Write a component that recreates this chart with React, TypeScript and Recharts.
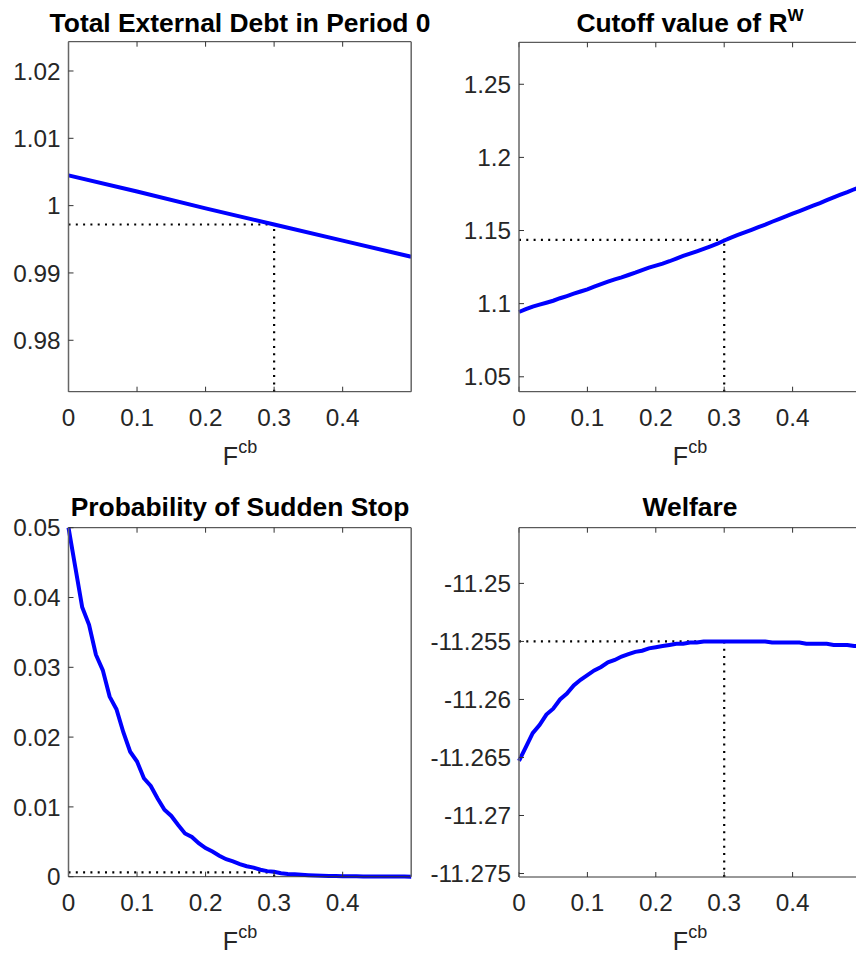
import { LineChart, Line, XAxis, YAxis, ReferenceLine } from "recharts"

// grid of F^cb values
const fcbGrid = [
  0, 0.01, 0.02, 0.03, 0.04, 0.05, 0.06, 0.07, 0.08, 0.09,
  0.1, 0.11, 0.12, 0.13, 0.14, 0.15, 0.16, 0.17, 0.18, 0.19,
  0.2, 0.21, 0.22, 0.23, 0.24, 0.25, 0.26, 0.27, 0.28, 0.29,
  0.3, 0.31, 0.32, 0.33, 0.34, 0.35, 0.36, 0.37, 0.38, 0.39,
  0.4, 0.41, 0.42, 0.43, 0.44, 0.45, 0.46, 0.47, 0.48, 0.49, 0.5,
]

const debtGrid = [0, 0.1, 0.2, 0.3, 0.4, 0.5]
const debtVals = [1.0045, 1.0021, 0.9996, 0.9972, 0.9948, 0.9924]

const cutoffVals = [
  1.0943, 1.0962, 1.098, 1.0993, 1.1006, 1.102, 1.1037, 1.1052, 1.1068, 1.1083,
  1.1098, 1.1116, 1.1133, 1.115, 1.1166, 1.118, 1.1196, 1.1212, 1.123, 1.1246,
  1.126, 1.1274, 1.129, 1.1308, 1.1326, 1.1342, 1.1358, 1.1375, 1.1392, 1.141,
  1.1432, 1.1452, 1.147, 1.1487, 1.1505, 1.1523, 1.154, 1.156, 1.1578, 1.1596,
  1.1615, 1.1633, 1.1652, 1.167, 1.1688, 1.1708, 1.1727, 1.1745, 1.1762, 1.1782, 1.1799,
]

const probVals = [
  0.05, 0.0443, 0.0386, 0.0361, 0.0318, 0.0296, 0.0258, 0.024, 0.0207, 0.0179,
  0.0165, 0.0141, 0.013, 0.0112, 0.0096, 0.0087, 0.0074, 0.0062, 0.0057, 0.0048,
  0.0041, 0.0036, 0.003, 0.0025, 0.0022, 0.0018, 0.0015, 0.0013, 0.001, 0.0008,
  0.0007, 0.0005, 0.0004, 0.00035, 0.00028, 0.00022, 0.00017, 0.00014, 0.00011, 0.00009,
  0.00007, 0.00006, 0.00005, 0.00004, 0.00004, 0.00003, 0.00003, 0.00002, 0.00002, 0.00002, 0.00001,
]

const welfareVals = [
  -11.2653, -11.2641, -11.2629, -11.2622, -11.2613, -11.2608, -11.26, -11.2595, -11.2588, -11.2583,
  -11.2579, -11.2575, -11.2572, -11.2568, -11.2566, -11.2563, -11.2561, -11.2559, -11.2558, -11.2556,
  -11.2555, -11.2554, -11.2553, -11.2552, -11.2552, -11.2551, -11.2551, -11.255, -11.255, -11.255,
  -11.255, -11.255, -11.255, -11.255, -11.255, -11.255, -11.255, -11.2551, -11.2551, -11.2551,
  -11.2551, -11.2551, -11.2552, -11.2552, -11.2552, -11.2552, -11.2553, -11.2553, -11.2553, -11.2554, -11.2554,
]

const fcbStar = 0.3
const debtStar = 0.9972
const cutoffStar = 1.1436
const probStar = 0.00063
const welfareStar = -11.255

const xTicks = [0, 0.1, 0.2, 0.3, 0.4]
const debtTicks = [0.98, 0.99, 1, 1.01, 1.02]
const cutoffTicks = [1.05, 1.1, 1.15, 1.2, 1.25]
const probTicks = [0, 0.01, 0.02, 0.03, 0.04, 0.05]
const welfareTicks = [-11.275, -11.27, -11.265, -11.26, -11.255, -11.25]

const FONT = '"Liberation Sans", Arial, Helvetica, sans-serif'
const TICK = { fontSize: 24.3, fill: "#262626", fontFamily: FONT }
const blank = () => ""

// axis sizes reserved by recharts; the margins below are reduced by them
const YW = 60
const XH = 60

interface PanelProps {
  left: number
  top: number
  width: number
  height: number
  // wanted plot-area edges relative to the chart box
  plot: { top: number; right: number; bottom: number; left: number }
  xs: number[]
  ys: number[]
  yDomain: [number, number]
  yTicks: number[]
  star: number
}

function Panel({ left, top, width, height, plot, xs, ys, yDomain, yTicks, star }: PanelProps) {
  const data = xs.map((f, i) => ({ f, v: ys[i] }))
  const margin = {
    top: plot.top - 1,
    right: plot.right - 1,
    bottom: plot.bottom - XH,
    left: plot.left - YW,
  }
  return (
    <div style={{ position: "absolute", left, top }}>
      <LineChart width={width} height={height} data={data} margin={margin}>
        <XAxis
          type="number"
          dataKey="f"
          domain={[0, 0.5]}
          ticks={xTicks}
          tick={TICK}
          tickSize={-5}
          tickMargin={22}
          height={XH}
          stroke="#333"
          tickLine={{ stroke: "#333" }}
        />
        <XAxis
          xAxisId="t"
          orientation="top"
          type="number"
          dataKey="f"
          domain={[0, 0.5]}
          ticks={xTicks}
          tickFormatter={blank}
          tickSize={-5}
          height={1}
          stroke="#333"
        />
        <YAxis
          type="number"
          domain={yDomain}
          ticks={yTicks}
          tick={TICK}
          tickSize={-5}
          tickMargin={13}
          width={YW}
          stroke="#666"
          strokeWidth={1.5}
          tickLine={{ stroke: "#333", strokeWidth: 1 }}
        />
        <YAxis
          yAxisId="r"
          orientation="right"
          type="number"
          domain={yDomain}
          ticks={yTicks}
          tickFormatter={blank}
          tickSize={-5}
          width={1}
          stroke="#666"
          strokeWidth={1.5}
          tickLine={{ stroke: "#333", strokeWidth: 1 }}
        />
        <ReferenceLine
          segment={[{ x: 0, y: star }, { x: fcbStar, y: star }]}
          stroke="#000"
          strokeWidth={2.2}
          strokeDasharray="2 5.3"
        />
        <ReferenceLine
          segment={[{ x: fcbStar, y: yDomain[0] }, { x: fcbStar, y: star }]}
          stroke="#000"
          strokeWidth={2.2}
          strokeDasharray="2 5.3"
        />
        <Line
          type="linear"
          dataKey="v"
          stroke="#0000ff"
          strokeWidth={4}
          dot={false}
          activeDot={false}
          isAnimationActive={false}
        />
      </LineChart>
    </div>
  )
}

function FLabel({ x, y }: { x: number; y: number }) {
  return (
    <text x={x} y={y} textAnchor="middle" fontSize={25} fill="#262626" fontFamily={FONT}>
      F
      <tspan dy={-11.7} fontSize={18}>
        cb
      </tspan>
    </text>
  )
}

export default function App() {
  return (
    <div
      style={{
        position: "absolute",
        left: 0,
        top: 0,
        width: 856,
        height: 957,
        overflow: "hidden",
        background: "#fff",
      }}
    >
      <Panel
        left={0}
        top={0}
        width={440}
        height={480}
        plot={{ top: 41.7, right: 28.8, bottom: 88.3, left: 68.5 }}
        xs={debtGrid}
        ys={debtVals}
        yDomain={[0.97236, 1.02435]}
        yTicks={debtTicks}
        star={debtStar}
      />
      <Panel
        left={420}
        top={0}
        width={450}
        height={480}
        plot={{ top: 42.3, right: 9, bottom: 88.3, left: 99 }}
        xs={fcbGrid}
        ys={cutoffVals}
        yDomain={[1.0398, 1.2787]}
        yTicks={cutoffTicks}
        star={cutoffStar}
      />
      <Panel
        left={0}
        top={480}
        width={440}
        height={477}
        plot={{ top: 47.7, right: 28.8, bottom: 80.3, left: 68.5 }}
        xs={fcbGrid}
        ys={probVals}
        yDomain={[0, 0.05]}
        yTicks={probTicks}
        star={probStar}
      />
      <Panel
        left={420}
        top={480}
        width={450}
        height={477}
        plot={{ top: 47.7, right: 9, bottom: 80, left: 99 }}
        xs={fcbGrid}
        ys={welfareVals}
        yDomain={[-11.2753, -11.2452]}
        yTicks={welfareTicks}
        star={welfareStar}
      />
      <svg
        width={856}
        height={957}
        style={{ position: "absolute", left: 0, top: 0, pointerEvents: "none" }}
      >
        <g fontFamily={FONT} fontWeight="bold" fontSize={26.4} fill="#000">
          <text x={240} y={32} textAnchor="middle">
            Total External Debt in Period 0
          </text>
          <text x={690} y={32} textAnchor="middle">
            Cutoff value of R
            <tspan dy={-10.6} fontSize={17}>
              W
            </tspan>
          </text>
          <text x={240} y={516} textAnchor="middle">
            Probability of Sudden Stop
          </text>
          <text x={690} y={516} textAnchor="middle">
            Welfare
          </text>
        </g>
        <FLabel x={240} y={465} />
        <FLabel x={690} y={465} />
        <FLabel x={240} y={950} />
        <FLabel x={690} y={950} />
      </svg>
    </div>
  )
}
